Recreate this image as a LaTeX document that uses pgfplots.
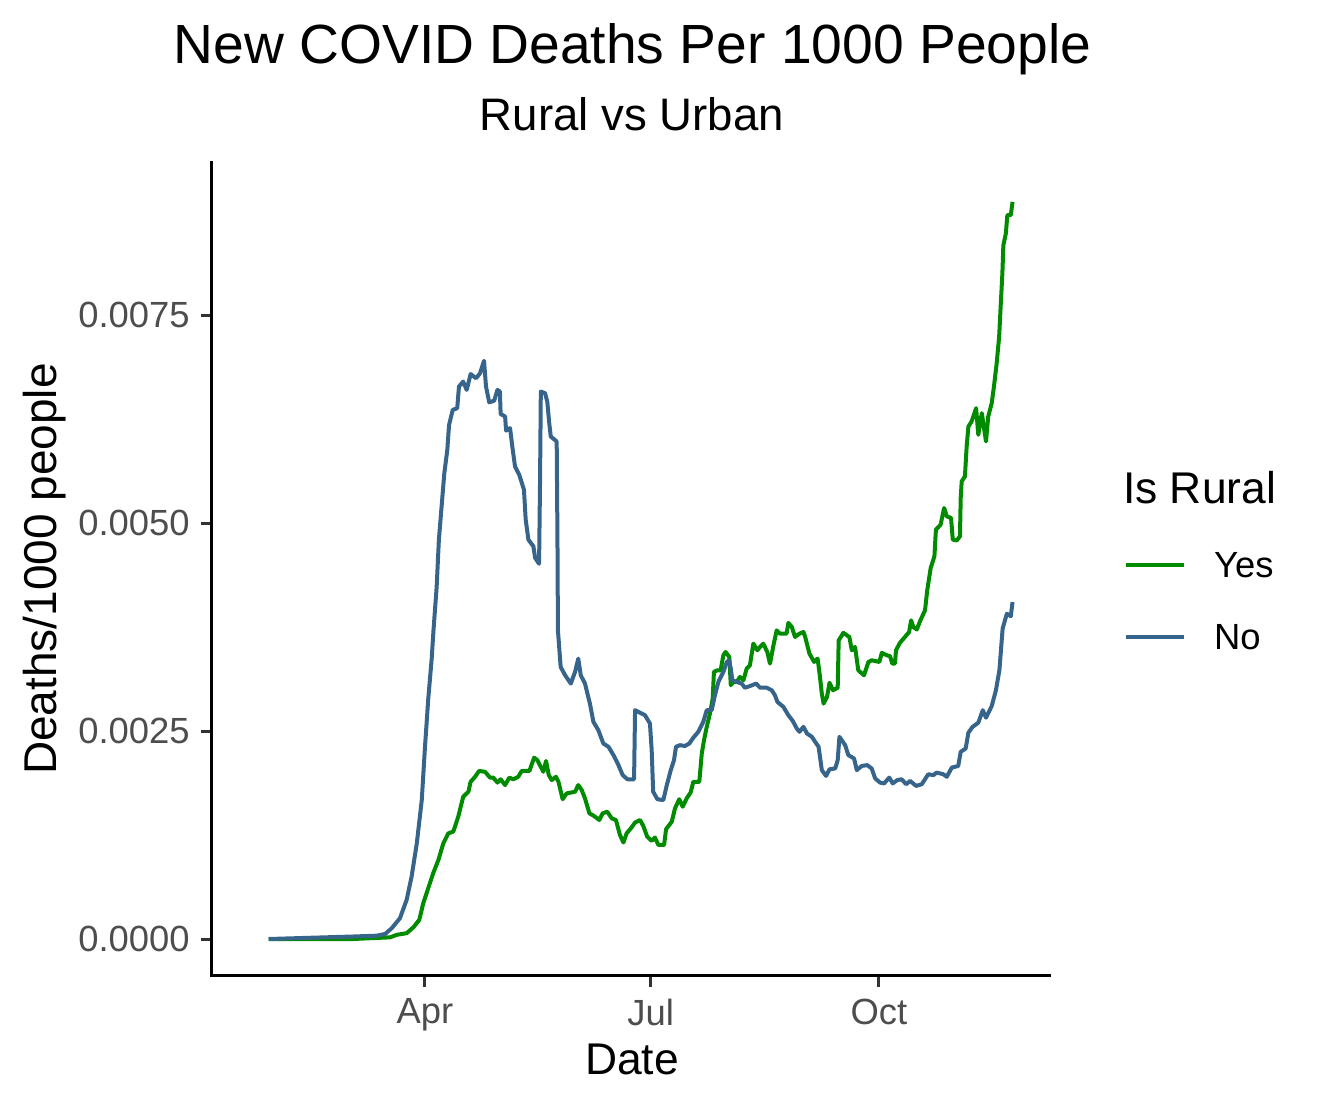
\documentclass[border=0pt]{standalone}
\usepackage{fontspec}
\setmainfont{Liberation Sans}
\usepackage{pgfplots}
\pgfplotsset{compat=1.18}
\usepackage{pgfplotstable}
\definecolor{ruralgreen}{HTML}{008B00}
\definecolor{urbanblue}{HTML}{36648B}
\definecolor{labgray}{HTML}{4D4D4D}
\definecolor{tickgray}{HTML}{333333}

% day = days since 2020-01-01 (Apr 1 = 91, Jul 1 = 182, Oct 1 = 274)
\pgfplotstableread{
day value
28 0
62 0
76.9 0.00002
79.6 0.00005
83.6 0.00007
86.3 0.00014
88.7 0.00023
90.3 0.00043
92.3 0.00061
94.3 0.00079
96.4 0.00095
98.4 0.00115
100.4 0.00127
102.4 0.00129
104.4 0.00147
106.4 0.00171
108.5 0.00177
109.4 0.00189
111.2 0.00195
112.8 0.00202
115.2 0.00201
117.2 0.00194
118.5 0.00194
120.2 0.00188
121.5 0.00192
123.3 0.00185
125.0 0.00194
126.6 0.00192
128.6 0.00195
130.0 0.00202
133.1 0.00202
135.0 0.00218
136.3 0.00215
138.7 0.00201
139.8 0.00214
140.9 0.00197
142.1 0.00191
143.8 0.00195
144.8 0.00189
146.5 0.00168
148.1 0.00175
151.5 0.00177
152.8 0.00185
154.2 0.00179
155.5 0.00169
157.3 0.00151
159.1 0.00148
161.3 0.00143
162.6 0.00151
164.5 0.00153
166.3 0.00145
168.0 0.00143
169.6 0.00125
171.0 0.00116
172.3 0.00127
174.0 0.00133
175.7 0.00140
177.7 0.00143
179.0 0.00136
180.6 0.00123
182.4 0.00118
183.7 0.00122
185.1 0.00113
187.4 0.00113
188.2 0.00132
190.5 0.00141
191.8 0.00157
193.5 0.00168
194.9 0.00159
196.5 0.00169
198.1 0.00176
199.2 0.00189
201.6 0.00189
202.6 0.00223
203.5 0.00239
204.6 0.00255
205.9 0.00271
207.0 0.00289
207.5 0.00321
208.9 0.00323
210.2 0.00323
211.3 0.00341
212.2 0.00345
213.7 0.00339
214.3 0.00305
215.3 0.00309
216.7 0.00309
218.0 0.00315
219.4 0.00311
220.7 0.00325
222.0 0.00329
223.4 0.00355
225.0 0.00347
226.1 0.00351
227.4 0.00355
229.0 0.00345
230.1 0.00331
231.5 0.00353
232.8 0.00371
234.1 0.00367
236.8 0.00367
237.5 0.00380
238.9 0.00375
240.2 0.00363
242.0 0.00367
243.6 0.00369
244.3 0.00363
246.0 0.00343
247.9 0.00333
249.3 0.00337
250.1 0.00319
251.0 0.00295
251.7 0.00283
253.1 0.00291
254.1 0.00308
255.5 0.00299
257.4 0.00302
257.8 0.00359
259.7 0.00368
262.1 0.00363
263.1 0.00347
264.4 0.00351
265.7 0.00323
268.0 0.00317
269.8 0.00333
271.1 0.00335
274.2 0.00333
275.2 0.00344
277.2 0.00341
278.5 0.00340
279.4 0.00331
280.5 0.00331
280.9 0.00347
282.5 0.00356
284.5 0.00363
286.2 0.00369
287.0 0.00383
287.9 0.00375
289.3 0.00372
290.6 0.00382
292.6 0.00395
293.5 0.00419
294.9 0.00446
296.4 0.00460
297.0 0.00492
298.9 0.00498
300.3 0.00518
301.4 0.00508
303.1 0.00506
303.8 0.00480
305.4 0.00479
306.7 0.00484
307.0 0.00530
307.4 0.00550
308.7 0.00556
309.4 0.00592
310.1 0.00616
311.4 0.00622
313.2 0.00638
314.1 0.00606
315.5 0.00632
317.2 0.00598
318.1 0.00628
319.5 0.00644
320.4 0.00664
321.5 0.00692
322.5 0.00724
323.1 0.00760
323.8 0.00800
324.2 0.00834
325.2 0.00848
325.8 0.00870
327.2 0.00870
327.9 0.00886
}\yesdata

\pgfplotstableread{
day value
28 0
62 0.00003
71.5 0.00004
74.9 0.00006
77.6 0.00013
80.9 0.00025
83.6 0.00047
85.6 0.00075
87.7 0.00115
89.7 0.00167
91.0 0.00231
92.3 0.00288
93.7 0.00337
94.4 0.00370
95.7 0.00423
96.6 0.00480
97.7 0.00520
98.8 0.00560
100.0 0.00588
100.7 0.00618
102.2 0.00636
104.0 0.00638
104.7 0.00664
106.4 0.00670
107.8 0.00660
109.4 0.00679
111.6 0.00674
113.2 0.00680
114.8 0.00695
115.6 0.00664
116.9 0.00645
118.9 0.00647
120.2 0.00660
121.2 0.00658
121.5 0.00631
123.3 0.00628
123.7 0.00611
125.3 0.00614
126.2 0.00592
127.3 0.00568
129.0 0.00558
130.9 0.00540
131.6 0.00504
132.7 0.00480
134.7 0.00472
135.4 0.00458
137.0 0.00451
137.4 0.00554
137.7 0.00658
139.4 0.00656
140.3 0.00646
141.1 0.00620
141.7 0.00604
144.1 0.00598
144.4 0.00484
144.6 0.00371
145.7 0.00327
147.5 0.00317
149.8 0.00307
151.5 0.00321
152.8 0.00337
153.8 0.00317
155.5 0.00307
157.5 0.00283
158.9 0.00261
160.9 0.00251
162.9 0.00235
165.0 0.00231
167.0 0.00221
169.0 0.00209
170.7 0.00197
172.6 0.00192
175.3 0.00192
175.7 0.00275
177.0 0.00273
179.7 0.00269
181.7 0.00259
182.4 0.00227
183.0 0.00177
184.7 0.00168
187.1 0.00167
188.5 0.00185
190.1 0.00203
191.4 0.00215
192.2 0.00231
193.8 0.00233
195.8 0.00232
197.6 0.00235
199.2 0.00242
201.2 0.00249
203.2 0.00261
204.6 0.00275
206.6 0.00275
207.9 0.00293
209.3 0.00309
211.3 0.00321
212.7 0.00333
213.6 0.00335
214.3 0.00325
214.9 0.00311
216.7 0.00309
218.7 0.00307
220.0 0.00302
222.0 0.00304
224.5 0.00307
226.1 0.00302
228.8 0.00302
230.8 0.00299
232.1 0.00293
233.1 0.00285
235.5 0.00279
237.5 0.00269
239.3 0.00262
240.9 0.00253
242.0 0.00249
243.6 0.00255
245.0 0.00247
247.0 0.00243
248.3 0.00237
249.7 0.00231
251.0 0.00203
252.7 0.00196
254.1 0.00204
256.4 0.00205
257.4 0.00215
258.1 0.00243
260.4 0.00233
261.7 0.00221
264.0 0.00217
265.1 0.00203
267.1 0.00208
269.3 0.00209
271.1 0.00205
272.5 0.00193
274.5 0.00188
276.1 0.00187
278.2 0.00194
279.6 0.00187
281.4 0.00191
283.2 0.00192
285.0 0.00186
286.6 0.00190
289.0 0.00184
291.3 0.00186
293.9 0.00198
296.0 0.00197
297.3 0.00200
300.0 0.00198
301.4 0.00195
303.4 0.00206
306.0 0.00208
307.0 0.00225
309.0 0.00229
310.1 0.00248
311.8 0.00255
314.1 0.00260
315.9 0.00275
317.2 0.00266
319.5 0.00280
321.2 0.00299
322.6 0.00323
323.9 0.00373
325.6 0.00391
327.2 0.00388
327.9 0.00405
}\nodata

\begin{document}
\begin{tikzpicture}
\useasboundingbox (0,0) rectangle (662pt,554.5pt);
\begin{axis}[
  at={(105.85pt,66.65pt)}, anchor=south west,
  scale only axis, width=418.65pt, height=406.35pt,
  xmin=5.0, xmax=342.6, ymin=-0.000441, ymax=0.009327,
  axis x line*=bottom, axis y line*=left,
  axis line style={-, line width=1.6pt, black, line cap=rect},
  xtick={91,182,274}, xticklabels={Apr,Jul,Oct},
  ytick={0,0.0025,0.005,0.0075},
  scaled y ticks=false,
  /pgf/number format/fixed,
  /pgf/number format/fixed zerofill,
  /pgf/number format/precision=4,
  /pgf/number format/assume math mode=true,
  tick align=outside, major tick length=5.5pt,
  tick style={line width=1.5pt, color=tickgray},
  minor tick num=0,
  ticklabel style={font=\fontsize{18.2}{21}\selectfont, text=labgray, inner sep=0pt},
  yticklabel style={anchor=east, xshift=-5.35pt},
  xticklabel style={anchor=north, yshift=-5.8pt},
  legend cell align=left,
  legend image code/.code={\draw[#1, line width=2pt] (0pt,0pt) -- (29.2pt,0pt);},
  legend style={draw=none, fill=none, at={(1.0892,0.5204)}, anchor=north west,
    inner sep=0pt, outer sep=0pt, row sep=23.1pt, column sep=14pt,
    font=\fontsize{18.2}{21}\selectfont,
    nodes={inner sep=0pt, text depth=0pt}},
]
\addplot[ruralgreen, line width=2pt, line join=round, no markers] table[x=day, y=value] {\yesdata};
\addlegendentry{Yes}
\addplot[urbanblue, line width=2pt, line join=round, no markers] table[x=day, y=value] {\nodata};
\addlegendentry{No}
\end{axis}
\node[anchor=base, inner sep=0pt, font=\fontsize{27.6}{32}\selectfont] at (316.25pt,522.85pt) {New COVID Deaths Per 1000 People};
\node[anchor=base, inner sep=0pt, font=\fontsize{22.8}{27}\selectfont] at (316pt,489.15pt) {Rural vs Urban};
\node[anchor=base, inner sep=0pt, font=\fontsize{22.2}{26}\selectfont] at (316pt,17pt) {Date};
\node[anchor=base, rotate=90, inner sep=0pt, font=\fontsize{23}{27}\selectfont] at (28.35pt,270pt) {Deaths/1000 people};
\node[anchor=base west, inner sep=0pt, font=\fontsize{22.2}{26}\selectfont] at (561.35pt,302.85pt) {Is Rural};
\end{tikzpicture}
\end{document}
